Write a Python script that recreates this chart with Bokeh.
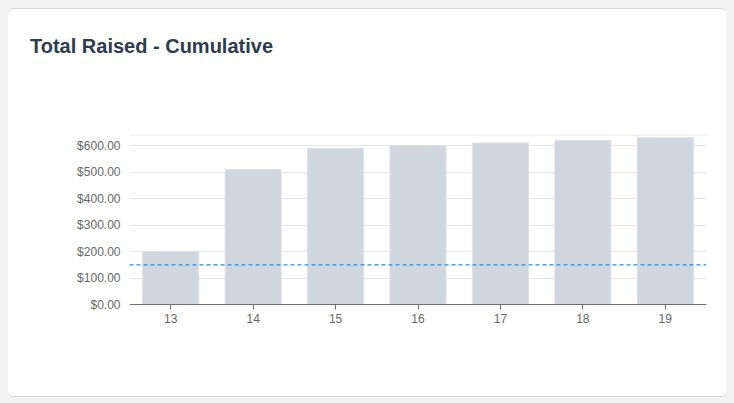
from bokeh.plotting import figure
from bokeh.models import Span, FixedTicker, NumeralTickFormatter, Range1d, Div
from bokeh.layouts import column
from bokeh.embed import file_html
from bokeh.resources import INLINE

title_text = "Total Raised - Cumulative"
weeks = ["13", "14", "15", "16", "17", "18", "19"]
raised = [200, 510, 590, 600, 610, 620, 630]
target = 150
y_ticks = [0, 100, 200, 300, 400, 500, 600]
top_line = 640

title = Div(text=title_text, width=721, height=70, margin=0,
            styles={"font-family": "Liberation Sans", "font-size": "20px", "font-weight": "bold",
                    "color": "#2e3b4e", "padding-top": "26px", "padding-left": "23px",
                    "box-sizing": "border-box", "line-height": "23px"})

p = figure(x_range=weeks, y_range=Range1d(0, 642), width=721, height=317,
           output_backend="svg", toolbar_location=None, margin=0,
           min_border_left=122, min_border_right=22, min_border_top=55, min_border_bottom=92)
p.border_fill_color = "white"
p.outline_line_color = None

p.vbar(x=weeks, top=raised, width=0.68, fill_color="#d0d6de", line_color="#dde1e7", line_width=1)

p.add_layout(Span(location=top_line, dimension="width", line_color="#e3e6ee", line_width=1))
p.add_layout(Span(location=target, dimension="width", line_color="#1e90ec", line_width=1.3,
                  line_dash="4 3"))

p.xgrid.grid_line_color = None
p.ygrid.grid_line_color = "#e3e6ee"
p.yaxis.ticker = FixedTicker(ticks=y_ticks)
p.yaxis.formatter = NumeralTickFormatter(format="$0,0.00")
p.yaxis.axis_line_color = None
p.yaxis.major_tick_line_color = None
p.yaxis.minor_tick_line_color = None
p.yaxis.major_label_standoff = 3
p.xaxis.axis_line_color = "#6e6e78"
p.xaxis.major_tick_line_color = "#6e6e78"
p.xaxis.major_tick_out = 5
p.xaxis.major_tick_in = 0
p.xaxis.major_label_standoff = 4
for ax in (p.xaxis, p.yaxis):
    ax.major_label_text_font = "Liberation Sans"
    ax.major_label_text_font_size = "12px"
    ax.major_label_text_color = "#666666"
p.x_range.range_padding = 0.0

card = column(title, p, spacing=0,
              styles={"border": "1px solid #d3d8df", "border-radius": "8px",
                      "background": "#ffffff", "overflow": "hidden", "margin-left": "-2px"})

html = file_html(card, INLINE)
css = "<style>html{background:#f3f3f4;} body{margin:8px;background:#f3f3f4;}</style>"
html = html.replace("</head>", css + "</head>", 1)
open("out.html", "w").write(html)
